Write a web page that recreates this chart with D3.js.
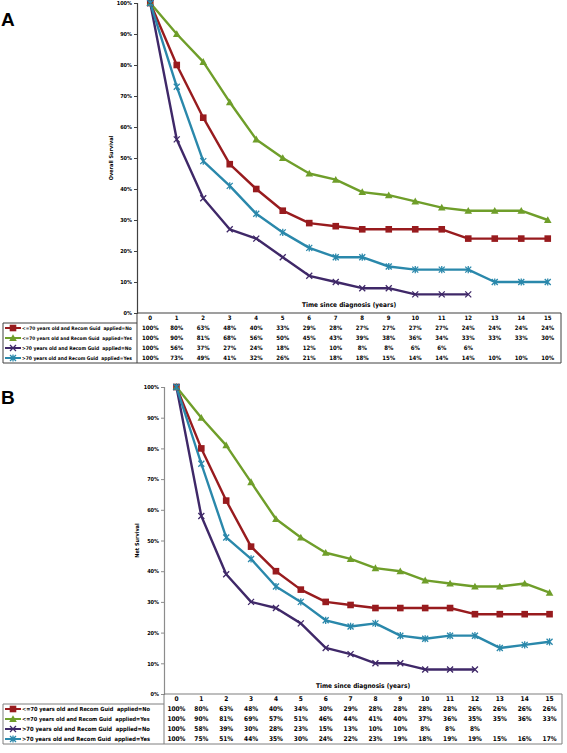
<!DOCTYPE html>
<html><head><meta charset="utf-8">
<script src="https://cdn.jsdelivr.net/npm/d3@7"></script>
<style>
html,body{margin:0;padding:0;background:#fff;}
svg{display:block;}
text{font-family:"Liberation Sans Narrow","DejaVu Sans Condensed","Liberation Sans",Arial,sans-serif;font-weight:bold;fill:#000;}
.pre{white-space:pre;}
</style></head>
<body>
<svg id="chart" width="567" height="753"></svg>
<script>
// ---------- data ----------
const years = ["0","1","2","3","4","5","6","7","8","9","10","11","12","13","14","15"];
const yTicks = [0,10,20,30,40,50,60,70,80,90,100];

const seriesNames = [
  "<=70 years old and Recom Guid  applied=No",
  "<=70 years old and Recom Guid  applied=Yes",
  ">70 years old and Recom Guid  applied=No",
  ">70 years old and Recom Guid  applied=Yes"
];
const seriesColors = ["#981b1e", "#6f9e2a", "#3f2868", "#2a88ab"];
const seriesMarkers = ["square", "triangle", "x", "star"];

// Panel A: Overall Survival (%)
const overallLe70No  = [100,80,63,48,40,33,29,28,27,27,27,27,24,24,24,24];
const overallLe70Yes = [100,90,81,68,56,50,45,43,39,38,36,34,33,33,33,30];
const overallGt70No  = [100,56,37,27,24,18,12,10,8,8,6,6,6];
const overallGt70Yes = [100,73,49,41,32,26,21,18,18,15,14,14,14,10,10,10];

// Panel B: Net Survival (%)
const netLe70No  = [100,80,63,48,40,34,30,29,28,28,28,28,26,26,26,26];
const netLe70Yes = [100,90,81,69,57,51,46,44,41,40,37,36,35,35,36,33];
const netGt70No  = [100,58,39,30,28,23,15,13,10,10,8,8,8];
const netGt70Yes = [100,75,51,44,35,30,24,22,23,19,18,19,19,15,16,17];

// ---------- drawing ----------
const svg = d3.select("#chart");

function marker(g, type, color) {
  if (type === "square") {
    g.append("rect").attr("x",-3.3).attr("y",-3.3).attr("width",6.6).attr("height",6.6).attr("fill",color);
  } else if (type === "triangle") {
    g.append("path").attr("d","M0,-3.8L3.8,3L-3.8,3Z").attr("fill",color);
  } else if (type === "x") {
    g.append("path").attr("d","M-3,-3L3,3M-3,3L3,-3").attr("stroke",color).attr("stroke-width",1.3).attr("fill","none");
  } else {
    g.append("path").attr("d","M-3,-3L3,3M-3,3L3,-3M0,-3.6L0,3.6").attr("stroke",color).attr("stroke-width",1.3).attr("fill","none");
  }
}

function fitText(sel, target, base) {
  const w = sel.node().getComputedTextLength();
  if (w > 0) sel.attr("font-size", (base * target / w).toFixed(2));
}

function panel(cfg) {
  const g = svg.append("g");
  const x = d3.scaleBand().domain(years).range([cfg.left, cfg.right]).padding(0);
  const bw = x.bandwidth();
  const cx = d => x(d) + bw/2;
  const y = d3.scaleLinear().domain([0,100]).range([cfg.bottom, cfg.top]);

  // panel letter
  g.append("text").attr("x",1).attr("y",cfg.letterY).attr("font-size",19)
    .style("font-family","Liberation Sans, Arial, sans-serif").text(cfg.letter);

  // y axis
  const ax = g.append("g").attr("transform",`translate(${cfg.left},0)`)
    .call(d3.axisLeft(y).tickValues(yTicks).tickFormat(d => d + "%").tickSize(3).tickPadding(2));
  ax.select(".domain").attr("stroke",cfg.axisColor).attr("stroke-width",1.2);
  ax.selectAll(".tick line").attr("stroke",cfg.axisColor);
  ax.selectAll(".tick text").attr("font-size",cfg.tickFont).style("font-family",null).attr("fill","#000");

  // y title
  g.append("text").attr("transform",`translate(${cfg.yTitleX},${(cfg.top+cfg.bottom)/2}) rotate(-90)`)
    .attr("text-anchor","middle").attr("font-size",cfg.tickFont).text(cfg.yTitle);

  // x title
  g.append("text").attr("x",(cfg.left+cfg.right)/2).attr("y",cfg.bottom-6)
    .attr("text-anchor","middle").attr("font-size",cfg.titleFont).text("Time since diagnosis (years)");

  // lines
  const line = d3.line().x((v,i) => cx(years[i])).y(v => y(v));
  cfg.series.forEach((vals, si) => {
    g.append("path").datum(vals).attr("d",line).attr("fill","none")
      .attr("stroke",seriesColors[si]).attr("stroke-width",2.4).attr("stroke-linejoin","round");
  });
  cfg.series.forEach((vals, si) => {
    vals.forEach((v,i) => {
      const m = g.append("g").attr("transform",`translate(${cx(years[i])},${y(v)})`);
      marker(m, seriesMarkers[si], seriesColors[si]);
    });
  });

  // data table
  const rowH = 10;
  const hTop = cfg.bottom;
  const rowsTop = hTop + rowH;
  const tBottom = rowsTop + rowH*4;
  const lc = cfg.tableColor;
  g.append("line").attr("x1",cfg.left).attr("x2",cfg.right).attr("y1",hTop).attr("y2",hTop).attr("stroke",lc).attr("stroke-width",1.2);
  g.append("line").attr("x1",cfg.right).attr("x2",cfg.right).attr("y1",hTop).attr("y2",tBottom).attr("stroke",lc);
  g.append("line").attr("x1",cfg.left).attr("x2",cfg.left).attr("y1",hTop).attr("y2",tBottom).attr("stroke",lc);
  g.append("line").attr("x1",3).attr("x2",cfg.left).attr("y1",rowsTop).attr("y2",rowsTop).attr("stroke",lc);
  g.append("line").attr("x1",3).attr("x2",3).attr("y1",rowsTop).attr("y2",tBottom).attr("stroke",lc);
  g.append("line").attr("x1",3).attr("x2",cfg.right).attr("y1",tBottom).attr("y2",tBottom).attr("stroke",lc);

  // header
  years.forEach(yr => {
    g.append("text").attr("x",cx(yr)).attr("y",hTop+rowH/2+2.2).attr("text-anchor","middle")
      .attr("font-size",cfg.tableFont).text(yr);
  });
  // rows
  cfg.series.forEach((vals, si) => {
    const ry = rowsTop + rowH*si + rowH/2;
    const lg = g.append("g");
    lg.append("line").attr("x1",5).attr("x2",21).attr("y1",ry).attr("y2",ry)
      .attr("stroke",seriesColors[si]).attr("stroke-width",2);
    marker(lg.append("g").attr("transform",`translate(13,${ry})`), seriesMarkers[si], seriesColors[si]);
    const lt = g.append("text").attr("class","pre").attr("x",22).attr("y",ry+2.2).attr("font-size",cfg.tableFont)
      .text(seriesNames[si]);
    fitText(lt, cfg.labelLen, cfg.tableFont);
    vals.forEach((v,i) => {
      g.append("text").attr("x",cx(years[i])).attr("y",ry+2.2).attr("text-anchor","middle")
        .attr("font-size",cfg.tableFont).text(Math.round(v) + "%");
    });
  });
}

panel({
  letter:"A", letterY:26, top:3, bottom:313, left:137, right:561,
  series:[overallLe70No, overallLe70Yes, overallGt70No, overallGt70Yes],
  yTitle:"Overall Survival", yTitleX:113, axisColor:"#404040", tableColor:"#404040",
  tickFont:5.5, titleFont:6.5, tableFont:6, labelLen:110
});
panel({
  letter:"B", letterY:404, top:387, bottom:694, left:164, right:562,
  series:[netLe70No, netLe70Yes, netGt70No, netGt70Yes],
  yTitle:"Net Survival", yTitleX:139, axisColor:"#8c8c8c", tableColor:"#7f7f7f",
  tickFont:5.5, titleFont:6.5, tableFont:6.5, labelLen:128
});
</script>
</body></html>
